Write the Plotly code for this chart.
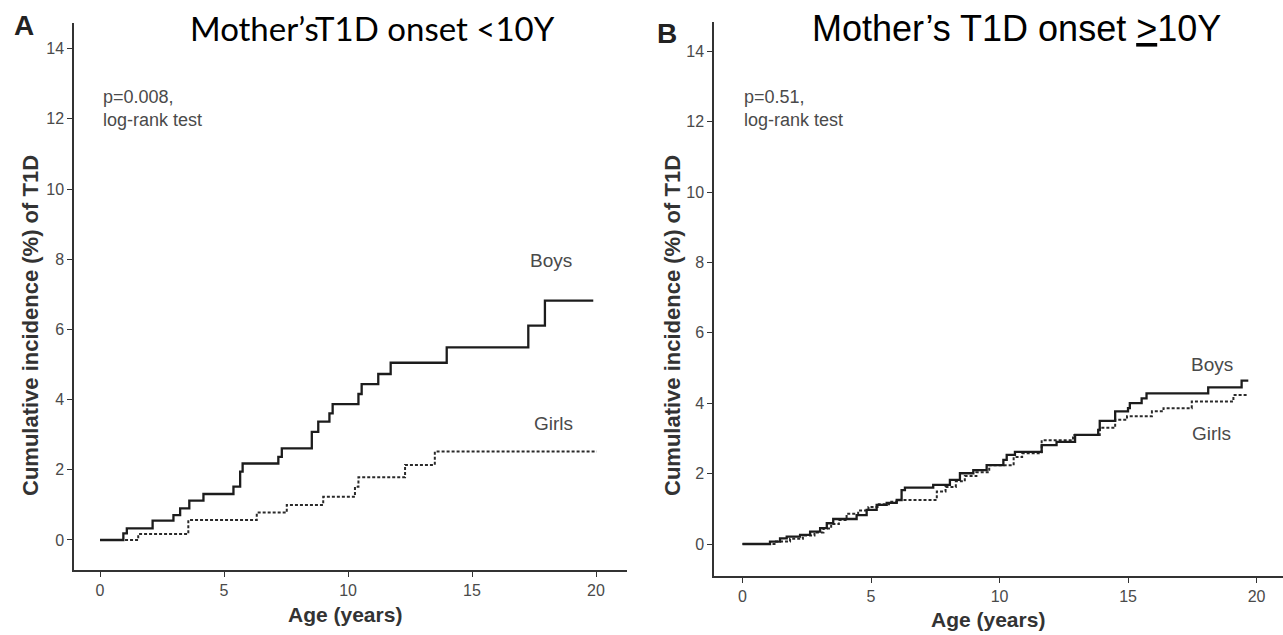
import plotly.graph_objects as go

# ---- Panel A: mother's T1D onset < 10 years ----
boys_a_age = [0, 0.94, 1.08, 2.12, 2.96, 3.23, 3.6, 4.17, 5.38, 5.65, 5.75, 7.19, 7.33,
              8.54, 8.8, 9.25, 9.38, 10.42, 10.55, 11.22, 11.72, 13.98, 17.27, 17.94, 19.89]
boys_a_inc = [0, 0.19, 0.33, 0.55, 0.71, 0.90, 1.12, 1.31, 1.52, 1.95, 2.18, 2.37, 2.61,
              3.08, 3.37, 3.61, 3.87, 4.16, 4.44, 4.73, 5.05, 5.49, 6.11, 6.82, 6.82]
girls_a_age = [0, 1.54, 3.56, 6.32, 7.53, 9.0, 10.28, 10.42, 12.3, 13.5, 20.03]
girls_a_inc = [0, 0.17, 0.57, 0.78, 1.0, 1.23, 1.52, 1.79, 2.14, 2.52, 2.52]

# ---- Panel B: mother's T1D onset >= 10 years ----
boys_b_age = [0, 1.07, 1.46, 1.72, 2.24, 2.63, 3.02, 3.28, 3.53, 4.44, 4.83, 5.22, 5.61,
              6.0, 6.19, 6.32, 7.42, 8.07, 8.46, 8.98, 9.5, 10.15, 10.28, 10.6, 11.64,
              12.22, 12.94, 13.84, 13.9, 14.5, 15.0, 15.07, 15.53, 15.72, 18.12, 19.42, 19.68]
boys_b_inc = [0, 0.07, 0.16, 0.21, 0.26, 0.35, 0.45, 0.59, 0.71, 0.82, 0.97, 1.11, 1.17,
              1.25, 1.53, 1.60, 1.68, 1.82, 2.01, 2.10, 2.24, 2.39, 2.53, 2.62, 2.81,
              2.90, 3.10, 3.24, 3.50, 3.77, 3.86, 4.00, 4.14, 4.28, 4.45, 4.64, 4.64]
girls_b_age = [0, 1.3, 1.85, 2.35, 2.8, 3.15, 3.45, 3.75, 4.05, 4.5, 4.9, 5.3, 5.7, 6.0,
               7.56, 7.9, 8.3, 8.65, 9.1, 9.6, 10.55, 10.88, 11.64, 12.86, 13.9, 14.5,
               14.96, 15.93, 16.38, 17.48, 19.1, 19.68]
girls_b_inc = [0, 0.07, 0.15, 0.24, 0.33, 0.44, 0.57, 0.68, 0.86, 0.95, 1.05, 1.13, 1.2, 1.25,
               1.49, 1.62, 1.78, 1.93, 2.04, 2.24, 2.47, 2.58, 2.95, 3.10, 3.30, 3.53,
               3.63, 3.77, 3.86, 4.05, 4.23, 4.23]

x_ticks = [0, 5, 10, 15, 20]
y_ticks = [0, 2, 4, 6, 8, 10, 12, 14]

W, H = 1283, 635
def px(x):
    return x / W
def py(y):
    return 1 - y / H

LINE = "#1c1c1c"
GREY = "#4a4a4a"
ARIAL = "Liberation Sans, Arial, sans-serif"

fig = go.Figure()

def add_curves(age_b, inc_b, age_g, inc_g, xa, ya):
    fig.add_trace(go.Scatter(x=age_g, y=inc_g, mode="lines", line_shape="hv",
                             line=dict(color="#2a2a2a", width=2, dash="3px,2px"),
                             xaxis=xa, yaxis=ya, name="Girls"))
    fig.add_trace(go.Scatter(x=age_b, y=inc_b, mode="lines", line_shape="hv",
                             line=dict(color=LINE, width=2.3),
                             xaxis=xa, yaxis=ya, name="Boys"))

add_curves(boys_a_age, boys_a_inc, girls_a_age, girls_a_inc, "x", "y")
add_curves(boys_b_age, boys_b_inc, girls_b_age, girls_b_inc, "x2", "y2")

axis_common = dict(showline=True, linecolor="#333333", linewidth=1.5, showgrid=False,
                   zeroline=False, ticks="outside", ticklen=5, tickwidth=1.2,
                   tickcolor="#333333", tickfont=dict(family=ARIAL, size=16, color=GREY))

fig.update_layout(
    width=W, height=H,
    margin=dict(l=0, r=0, t=0, b=0),
    paper_bgcolor="white", plot_bgcolor="white",
    showlegend=False,
    xaxis=dict(domain=[px(74), px(627)], range=[-1.05, 21.25], tickvals=x_ticks,
               anchor="y", **axis_common),
    yaxis=dict(domain=[py(570), py(23)], range=[-0.855, 14.73], tickvals=y_ticks,
               anchor="x", **axis_common),
    xaxis2=dict(domain=[px(714), px(1283)], range=[-1.109, 21.03], tickvals=x_ticks,
                anchor="y2", **axis_common),
    yaxis2=dict(domain=[py(576), py(22)], range=[-0.909, 14.83], tickvals=y_ticks,
                anchor="x2", **axis_common),
)

ann = []
def note(text, x, y, size, color=GREY, family=ARIAL, xanchor="center", align="center",
         angle=0, xref="paper", yref="paper"):
    ann.append(dict(text=text, x=x, y=y, xref=xref, yref=yref, showarrow=False,
                    xanchor=xanchor, yanchor="middle", align=align, textangle=angle,
                    font=dict(family=family, size=size, color=color)))

# Panel titles and letters
note("Mother’sT1D onset <10Y", px(372), py(28), 33, color="#000000",
     family="Lato, Open Sans, sans-serif")
note("Mother’s T1D onset <u>></u>10Y", px(1016), py(28), 36, color="#000000")
note("<b>A</b>", px(24), py(25), 28, color="#222222")
note("<b>B</b>", px(667), py(33), 28, color="#222222")

# Axis titles
for cx in (30, 672):
    note("<b>Cumulative incidence (%) of T1D</b>", px(cx), py(326), 22, color="#333333",
         angle=-90)
note("<b>Age (years)</b>", px(345), py(614), 21, color="#333333")
note("<b>Age (years)</b>", px(988), py(619), 21, color="#333333")

# Test statistics
note("p=0.008,<br>log-rank test", px(101), py(108), 18, xanchor="left", align="left")
note("p=0.51,<br>log-rank test", px(742), py(108), 18, xanchor="left", align="left")

# Series labels
note("Boys", 18.2, 7.95, 19, xref="x", yref="y")
note("Girls", 18.27, 3.33, 19, xref="x", yref="y")
note("Boys", 18.27, 5.09, 19, xref="x2", yref="y2")
note("Girls", 18.23, 3.15, 19, xref="x2", yref="y2")

fig.update_layout(annotations=ann)
fig.write_html("out.html")
